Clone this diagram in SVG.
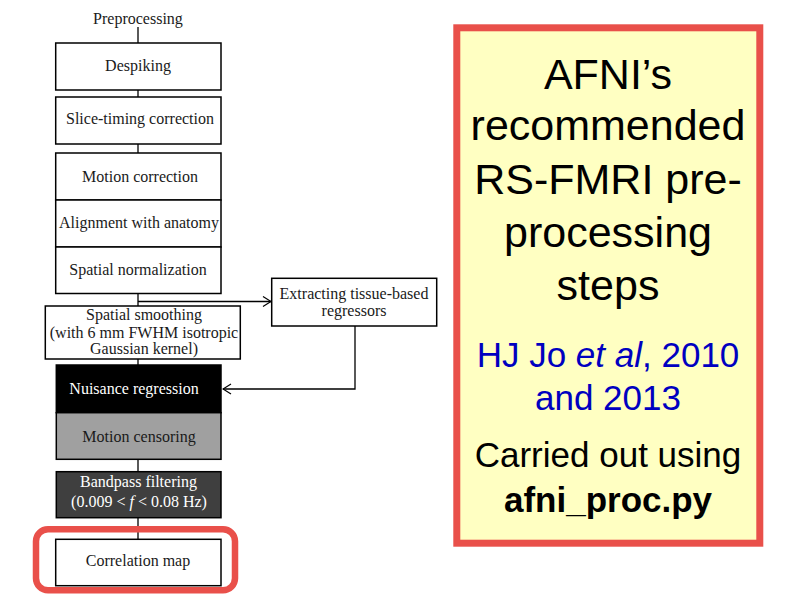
<svg xmlns="http://www.w3.org/2000/svg" width="793" height="595" viewBox="0 0 793 595">
<style>
.box{fill:#fff;stroke:#000;stroke-width:1.5}
.t{font-family:"Liberation Serif","Times New Roman",serif;font-size:16px;fill:#1a1a1a;text-anchor:middle}
.w{fill:#fff}
.c{fill:none;stroke:#000;stroke-width:1.3}
.big{font-family:"Liberation Sans",Arial,sans-serif;font-size:43px;fill:#000;text-anchor:middle}
.mid{font-family:"Liberation Sans",Arial,sans-serif;font-size:35px;text-anchor:middle}
</style>
<defs>
<marker id="arr" markerWidth="10" markerHeight="12" refX="9" refY="6" orient="auto" markerUnits="userSpaceOnUse">
<path d="M1,1 L9,6 L1,11" fill="none" stroke="#000" stroke-width="1.2"/>
</marker>
</defs>
<rect width="793" height="595" fill="#fff"/>
<g id="connectors">
<line class="c" x1="138" y1="27" x2="138" y2="43"/>
<line class="c" x1="138" y1="90" x2="138" y2="97"/>
<line class="c" x1="138" y1="144" x2="138" y2="153"/>
<line class="c" x1="138" y1="293" x2="138" y2="306"/>
<line class="c" x1="138" y1="301.5" x2="271" y2="301.5" marker-end="url(#arr)"/>
<line class="c" x1="138" y1="359" x2="138" y2="365"/>
<polyline class="c" points="355,326 355,389 223,389" marker-end="url(#arr)"/>
<line class="c" x1="138" y1="459" x2="138" y2="472"/>
<line class="c" x1="138" y1="518" x2="138" y2="539"/>
</g>
<g id="preprocessing">
<text class="t" x="138" y="24">Preprocessing</text>
</g>
<g id="despiking">
<rect class="box" x="55.7" y="43" width="165.3" height="47"/>
<text class="t" x="138" y="71">Despiking</text>
</g>
<g id="slice-timing">
<rect class="box" x="55.7" y="97" width="165.3" height="47"/>
<text class="t" x="140" y="124">Slice-timing correction</text>
</g>
<g id="motion-correction">
<rect class="box" x="55.7" y="153" width="165.3" height="47"/>
<text class="t" x="140" y="182">Motion correction</text>
</g>
<g id="alignment">
<rect class="box" x="55.7" y="200" width="165.3" height="47"/>
<text class="t" x="139" y="228">Alignment with anatomy</text>
</g>
<g id="normalization">
<rect class="box" x="55.7" y="247" width="165.3" height="46.5"/>
<text class="t" x="138" y="275">Spatial normalization</text>
</g>
<g id="smoothing">
<rect class="box" x="45.3" y="306" width="195" height="53"/>
<text class="t" x="144" y="320">Spatial smoothing</text>
<text class="t" x="144" y="337.5">(with 6 mm FWHM isotropic</text>
<text class="t" x="144" y="354">Gaussian kernel)</text>
</g>
<g id="extracting">
<rect class="box" x="271.7" y="278.3" width="165" height="47.7"/>
<text class="t" x="354" y="298.5">Extracting tissue-based</text>
<text class="t" x="354" y="315.5">regressors</text>
</g>
<g id="nuisance">
<rect x="56.3" y="365" width="164.7" height="47.7" fill="#000" stroke="#000" stroke-width="1.5"/>
<text class="t w" x="134" y="393.5">Nuisance regression</text>
</g>
<g id="censoring">
<rect x="56.3" y="412.7" width="164.7" height="46.6" fill="#a0a0a0" stroke="#000" stroke-width="1.5"/>
<text class="t" x="139" y="441.5">Motion censoring</text>
</g>
<g id="bandpass">
<rect x="56.3" y="471.7" width="164.7" height="46" fill="#3f3f3f" stroke="#000" stroke-width="1.5"/>
<text class="t w" x="138.5" y="486.5">Bandpass filtering</text>
<text class="t w" x="139" y="507">(0.009 &lt; <tspan font-style="italic">f</tspan> &lt; 0.08 Hz)</text>
</g>
<g id="correlation">
<rect x="36" y="529.3" width="199" height="61" rx="12" fill="none" stroke="#e9504a" stroke-width="6.5"/>
<rect class="box" x="55.7" y="539.3" width="165.3" height="46.4"/>
<text class="t" x="138" y="566">Correlation map</text>
</g>
<g id="info-panel">
<rect x="456.8" y="27.8" width="303" height="515.4" fill="#ffffc2" stroke="#e9504a" stroke-width="7"/>
<text class="big" x="608" y="89">AFNI’s</text>
<text class="big" x="608" y="140">recommended</text>
<text class="big" x="608" y="194">RS-FMRI pre-</text>
<text class="big" x="608" y="247">processing</text>
<text class="big" x="608" y="300">steps</text>
<text class="mid" x="608" y="367" fill="#0000c0">HJ Jo <tspan font-style="italic">et al</tspan>, 2010</text>
<text class="mid" x="608" y="410" fill="#0000c0">and 2013</text>
<text class="mid" x="608" y="467" fill="#000">Carried out using</text>
<text class="mid" x="608" y="512" fill="#000" font-weight="bold">afni_proc.py</text>
</g>
</svg>
